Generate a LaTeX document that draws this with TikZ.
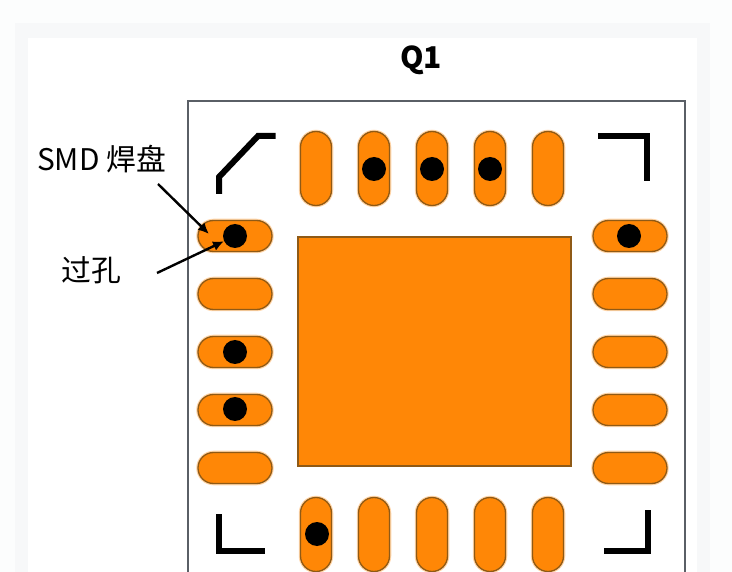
\documentclass[tikz,border=0pt]{standalone}
\usepackage{fontspec}
\setmainfont{Noto Sans CJK SC}
\usetikzlibrary{arrows.meta}
\definecolor{pagebg}{HTML}{FCFDFD}
\definecolor{band}{HTML}{F7F8F9}
\definecolor{padfill}{HTML}{FF8706}
\definecolor{padedge}{HTML}{8F5A16}
\definecolor{boardedge}{HTML}{5A5F66}
\tikzset{
  x=1pt,y=-1pt,
  halo/.style={preaction={draw=padfill!35!white,line width=3.5pt}},
  hpad/.style={halo,draw=padedge,line width=1.3pt,fill=padfill,minimum width=74pt,minimum height=31pt,rounded corners=15.5pt,inner sep=0pt},
  vpad/.style={halo,draw=padedge,line width=1.3pt,fill=padfill,minimum width=31pt,minimum height=74pt,rounded corners=15.5pt,inner sep=0pt},
  epad/.style={draw=padedge,line width=1.3pt,fill=padfill,inner sep=0pt,minimum width=273pt,minimum height=229pt},
  via/.style={circle,fill=black,minimum size=24pt,inner sep=0pt},
  silk/.style={draw=black,line width=6pt,line join=miter},
  callout/.style={draw=black,line width=2.4pt,-{Latex[length=11pt,width=10pt]}},
  lbl/.style={font=\fontsize{29.8}{32}\selectfont,text=black,inner sep=0pt},
}
\begin{document}
\begin{tikzpicture}
\useasboundingbox (0,0) rectangle (732,572);
\clip (0,0) rectangle (732,572);
\fill[pagebg] (0,0) rectangle (732,572);
\fill[band] (15,23) rectangle (710,572);
\fill[white] (28,38) rectangle (697,572);
\draw[boardedge,line width=1.2pt,fill=white] (188,101) rectangle (685,590);

\node[font=\fontsize{30}{32}\bfseries\selectfont,inner sep=0pt] (title) at (421,60) {Q1};

% thermal pad
\node[epad] (ep) at (434.5,351.5) {};

% top pads
\foreach \n/\x in {1/316,2/374,3/432,4/490,5/548}
  \node[vpad] (T\n) at (\x,168.5) {};
% bottom pads
\foreach \n/\x in {1/316,2/374,3/432,4/490,5/548}
  \node[vpad] (B\n) at (\x,534.5) {};
% left pads
\foreach \n/\y in {1/236,2/294,3/352,4/410,5/468}
  \node[hpad] (L\n) at (235,\y) {};
% right pads
\foreach \n/\y in {1/236,2/294,3/352,4/410,5/468}
  \node[hpad] (R\n) at (630,\y) {};

% vias
\node[via] (v1) at (374,169) {};
\node[via] (v2) at (432,169) {};
\node[via] (v3) at (490,169) {};
\node[via] (v4) at (235,236) {};
\node[via] (v5) at (235,352) {};
\node[via] (v6) at (235,409) {};
\node[via] (v7) at (629,236) {};
\node[via] (v8) at (317,534) {};

% corner marks
\draw[silk] (275.5,136) -- (258,136) -- (219,177) -- (219,194);
\draw[silk] (598,136) -- (647,136) -- (647,181);
\draw[silk] (219,514) -- (219,551) -- (265,551);
\draw[silk] (604,551) -- (648,551) -- (648,510);

% labels
\node[lbl,anchor=west] (smd) at (37,159) {SMD 焊盘};
\node[lbl,anchor=west] (hole) at (61,270) {过孔};

% callouts
\coordinate (smdfrom) at (158,184);
\coordinate (smdto) at (209,234);
\coordinate (holefrom) at (157,273);
\draw[callout] (smdfrom) -- (smdto);
\draw[callout] (holefrom) -- (v4);
\end{tikzpicture}
\end{document}
